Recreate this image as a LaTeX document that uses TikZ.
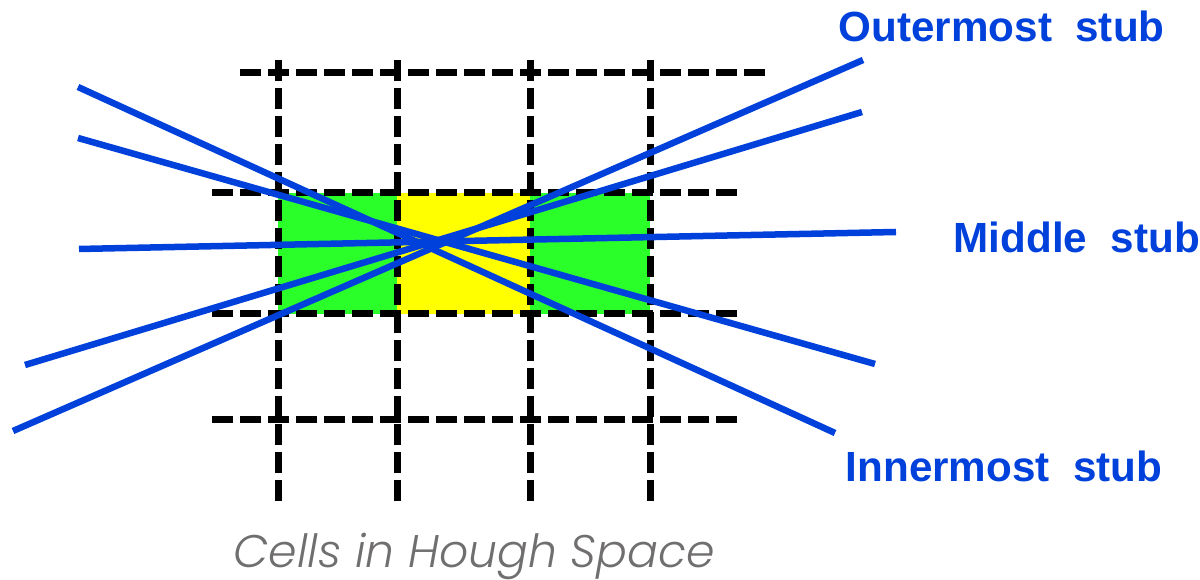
\documentclass[tikz,border=0pt]{standalone}
\usepackage{fontspec}
\setmainfont{Liberation Sans}
\newfontfamily\houghfont{Poppins}[ItalicFont={Poppins Light Italic}]
\usepackage{xcolor}
\definecolor{stubblue}{RGB}{0,65,220}
\definecolor{cellgreen}{RGB}{42,255,42}
\definecolor{cellyellow}{RGB}{255,255,0}
\definecolor{captiongrey}{RGB}{112,110,110}

\begin{document}
\begin{tikzpicture}[x=0.01cm, y=-0.01cm,
    gridline/.style={draw=black, line width=0.07cm, dash pattern=on 0.21cm off 0.07cm},
    stubline/.style={draw=stubblue, line width=0.065cm},
    stublabel/.style={text=stubblue, font=\fontsize{12}{14}\selectfont\bfseries, inner sep=0pt, anchor=base west}
]
\useasboundingbox (0,0) rectangle (1200,580);

% cells
\fill[cellgreen] (278,193) rectangle (397,314);
\fill[cellyellow] (397,193) rectangle (530,314);
\fill[cellgreen] (530,193) rectangle (650,314);

% grid
\foreach \gx in {278,397,530,650}
    \draw[gridline] (\gx,60) -- (\gx,507);
\draw[gridline] (240,73) -- (766,73);
\foreach \gy in {193,314,420}
    \draw[gridline] (212,\gy) -- (740,\gy);

% stubs
\coordinate (outerA) at (13,431);  \coordinate (outerB) at (863,60);
\coordinate (upperA) at (25,365);  \coordinate (upperB) at (862,112);
\coordinate (midA) at (79,249);    \coordinate (midB) at (896,232);
\coordinate (lowerA) at (78,138);  \coordinate (lowerB) at (875,364);
\coordinate (innerA) at (78,87);   \coordinate (innerB) at (835,433);
\draw[stubline] (outerA) -- (outerB);
\draw[stubline] (upperA) -- (upperB);
\draw[stubline] (midA) -- (midB);
\draw[stubline] (lowerA) -- (lowerB);
\draw[stubline] (innerA) -- (innerB);

% labels
\node[stublabel] (outerlabel) at (838,42) {Outermost\ \ stub};
\node[stublabel] (midlabel) at (953,253) {Middle\ \ stub};
\node[stublabel] (innerlabel) at (845,482) {Innermost\ \ stub};
\node[inner sep=0pt, anchor=base west, text=captiongrey, font=\houghfont\itshape\fontsize{13}{15}\selectfont] (houghcaption) at (233,568) {Cells in Hough Space};
\end{tikzpicture}
\end{document}
